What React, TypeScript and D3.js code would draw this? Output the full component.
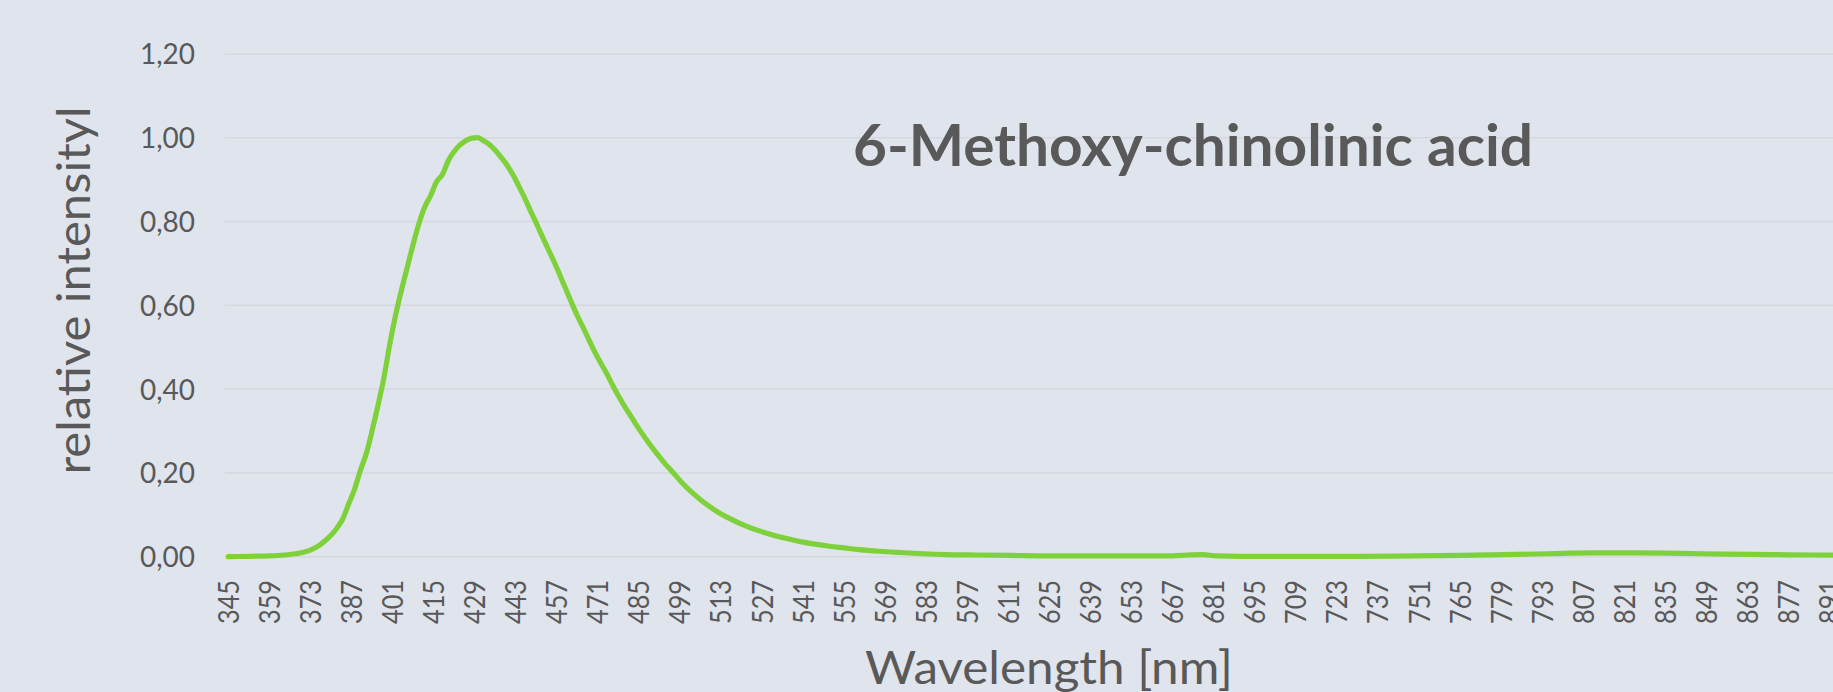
import React, { useEffect, useRef } from 'react';
import * as d3 from 'd3';

// wavelength [nm] and relative intensity
const wavelengths = [
  345, 352, 359, 364, 368, 371, 374, 376, 378, 380, 382, 384, 386, 388, 390, 392, 394, 396, 398,
  400, 402, 404, 406, 408, 410, 412, 414, 416, 418, 420, 422, 424, 426, 428, 430, 432, 434, 436,
  438, 440, 442, 444, 446, 448, 450, 452, 454, 456, 458, 460, 462, 464, 466, 468, 470, 472, 474,
  476, 478, 480, 482, 484, 486, 488, 490, 492, 494, 496, 498, 500, 503, 506, 509, 512, 516, 520,
  525, 530, 535, 540, 545, 550, 555, 560, 567, 574, 582, 590, 600, 612, 625, 640, 655, 667, 672,
  677, 682, 690, 710, 730, 750, 765, 780, 795, 810, 825, 840, 855, 870, 885, 900,
];
const intensity = [
  0.0, 0.001, 0.002, 0.004, 0.007, 0.011, 0.019, 0.027, 0.038, 0.051, 0.068, 0.09, 0.125, 0.16,
  0.205, 0.245, 0.3, 0.36, 0.425, 0.505, 0.575, 0.635, 0.69, 0.745, 0.795, 0.835, 0.862, 0.895,
  0.912, 0.945, 0.967, 0.983, 0.993, 0.999, 1.0, 0.993, 0.984, 0.97, 0.953, 0.935, 0.912, 0.885,
  0.857, 0.826, 0.796, 0.765, 0.735, 0.705, 0.673, 0.64, 0.607, 0.575, 0.547, 0.517, 0.488, 0.462,
  0.437, 0.41, 0.384, 0.36, 0.338, 0.316, 0.295, 0.275, 0.256, 0.238, 0.221, 0.206, 0.19, 0.174,
  0.154, 0.136, 0.12, 0.106, 0.091, 0.078, 0.064, 0.053, 0.044, 0.036, 0.03, 0.025, 0.021, 0.017,
  0.013, 0.01, 0.007, 0.005, 0.004, 0.003, 0.002, 0.002, 0.002, 0.002, 0.004, 0.005, 0.002, 0.001,
  0.001, 0.001, 0.002, 0.003, 0.005, 0.007, 0.009, 0.009, 0.008, 0.006, 0.005, 0.004, 0.003,
];

const xTickValues = [
  345, 359, 373, 387, 401, 415, 429, 443, 457, 471, 485, 499, 513, 527, 541, 555, 569, 583, 597,
  611, 625, 639, 653, 667, 681, 695, 709, 723, 737, 751, 765, 779, 793, 807, 821, 835, 849, 863,
  877, 891,
];
const yTickValues = [0, 0.2, 0.4, 0.6, 0.8, 1.0, 1.2];

const chartTitle = '6-Methoxy-chinolinic acid';
const xTitle = 'Wavelength [nm]';
const yTitle = 'relative intensityl';

const App = () => {
  const svgRef = useRef(null);

  useEffect(() => {
    const width = 1833;
    const height = 692;
    const textColor = '#595959';
    const font = 'Lato, "Open Sans", sans-serif';

    const svg = d3.select(svgRef.current);
    svg.selectAll('*').remove();
    svg.attr('width', width).attr('height', height);

    svg.append('rect')
      .attr('width', width)
      .attr('height', height)
      .attr('fill', '#E0E4ED');

    const xScale = d3.scaleLinear().domain([345, 891]).range([228.3, 1829.7]);
    const yScale = d3.scaleLinear().domain([0, 1]).range([556.7, 137.7]);
    const plotLeft = 225;

    // gridlines
    svg.append('g')
      .selectAll('line')
      .data(yTickValues)
      .join('line')
      .attr('x1', plotLeft)
      .attr('x2', width)
      .attr('y1', d => yScale(d))
      .attr('y2', d => yScale(d))
      .attr('stroke', '#D5D8DE')
      .attr('stroke-width', 1.5);

    // y tick labels
    svg.append('g')
      .selectAll('text')
      .data(yTickValues)
      .join('text')
      .attr('x', 195)
      .attr('y', d => yScale(d))
      .attr('dy', '0.36em')
      .attr('text-anchor', 'end')
      .attr('font-family', font)
      .attr('font-size', 29)
      .attr('fill', textColor)
      .attr('textLength', 55)
      .attr('lengthAdjust', 'spacingAndGlyphs')
      .text(d => d.toFixed(2).replace('.', ','));

    // x tick labels, rotated (the last one runs off the right edge, as in the original)
    svg.append('g')
      .selectAll('text')
      .data(xTickValues)
      .join('text')
      .attr('transform', d => `translate(${xScale(d)},580) rotate(-90)`)
      .attr('dy', '0.36em')
      .attr('text-anchor', 'end')
      .attr('font-family', font)
      .attr('font-size', 29)
      .attr('fill', textColor)
      .attr('textLength', 44)
      .attr('lengthAdjust', 'spacingAndGlyphs')
      .text(d => d);

    // spectrum
    const points = wavelengths.map((w, i) => [w, intensity[i]]);
    const line = d3.line()
      .x(d => xScale(d[0]))
      .y(d => yScale(d[1]))
      .curve(d3.curveMonotoneX);

    svg.append('path')
      .datum(points)
      .attr('fill', 'none')
      .attr('stroke', '#7FD13B')
      .attr('stroke-width', 5.2)
      .attr('stroke-linejoin', 'round')
      .attr('stroke-linecap', 'round')
      .attr('d', line);

    // titles
    svg.append('text')
      .attr('x', 853)
      .attr('y', 165.7)
      .attr('font-family', font)
      .attr('font-weight', 'bold')
      .attr('font-size', 57)
      .attr('fill', textColor)
      .attr('textLength', 680)
      .attr('lengthAdjust', 'spacingAndGlyphs')
      .text(chartTitle);

    svg.append('text')
      .attr('x', 1049)
      .attr('y', 684)
      .attr('text-anchor', 'middle')
      .attr('font-family', font)
      .attr('font-size', 46)
      .attr('fill', textColor)
      .attr('textLength', 368)
      .attr('lengthAdjust', 'spacingAndGlyphs')
      .text(xTitle);

    svg.append('text')
      .attr('transform', 'translate(90,290.5) rotate(-90)')
      .attr('text-anchor', 'middle')
      .attr('font-family', font)
      .attr('font-size', 47)
      .attr('fill', textColor)
      .attr('textLength', 368)
      .attr('lengthAdjust', 'spacingAndGlyphs')
      .text(yTitle);
  }, []);

  return (
    <div style={{ position: 'absolute', left: 0, top: 0 }}>
      <svg ref={svgRef} style={{ display: 'block' }}></svg>
    </div>
  );
};

export default App;
